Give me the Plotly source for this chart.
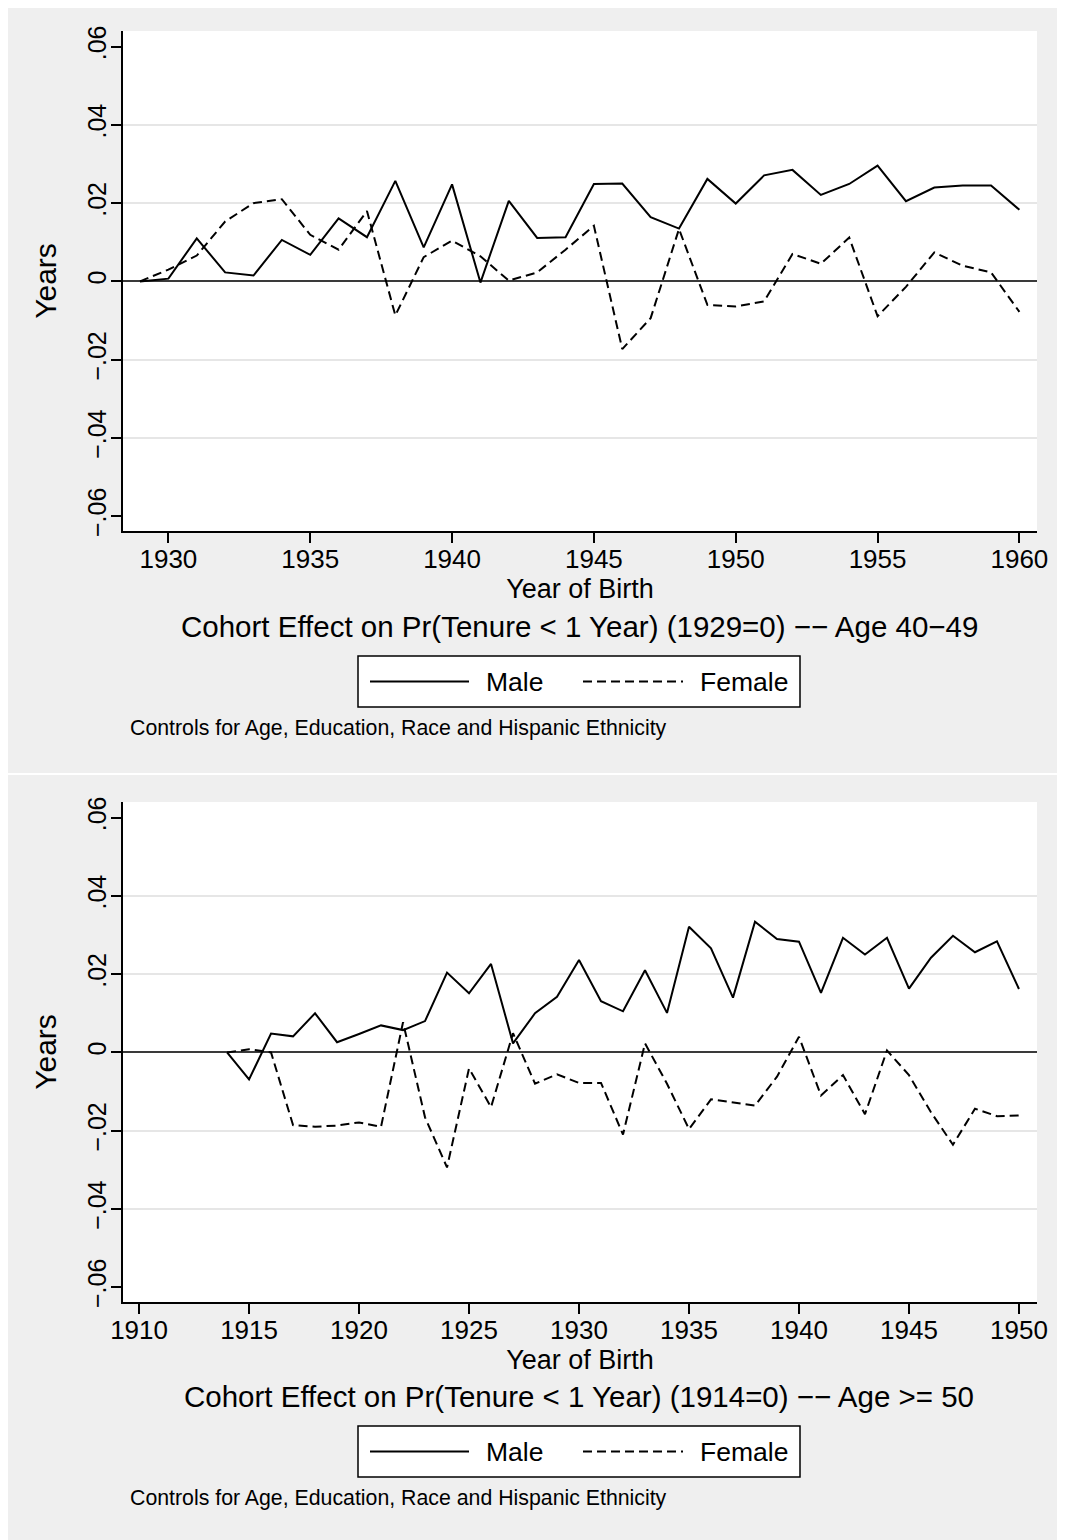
import plotly.graph_objects as go

# ---------------- data ----------------
years_top = [1929, 1930, 1931, 1932, 1933, 1934, 1935, 1936, 1937, 1938, 1939, 1940,
             1941, 1942, 1943, 1944, 1945, 1946, 1947, 1948, 1949, 1950, 1951, 1952,
             1953, 1954, 1955, 1956, 1957, 1958, 1959, 1960]
male_top = [0.0, 0.0007, 0.0110, 0.0023, 0.0015, 0.0106, 0.0068, 0.0161, 0.0113, 0.0257,
            0.0087, 0.0248, -0.0003, 0.0206, 0.0111, 0.0113, 0.0249, 0.0250, 0.0164, 0.0135,
            0.0262, 0.0199, 0.0271, 0.0285, 0.0221, 0.0249, 0.0296, 0.0205, 0.0240, 0.0245,
            0.0245, 0.0183]
female_top = [0.0, 0.0030, 0.0066, 0.0153, 0.0200, 0.0210, 0.0119, 0.0081, 0.0180, -0.0087,
              0.0062, 0.0104, 0.0064, 0.0002, 0.0023, 0.0081, 0.0142, -0.0173, -0.0094, 0.0134,
              -0.0060, -0.0064, -0.0051, 0.0070, 0.0045, 0.0112, -0.0089, -0.0014, 0.0074, 0.0040,
              0.0023, -0.0078]

years_bot = [1914, 1915, 1916, 1917, 1918, 1919, 1920, 1921, 1922, 1923, 1924, 1925, 1926,
             1927, 1928, 1929, 1930, 1931, 1932, 1933, 1934, 1935, 1936, 1937, 1938, 1939,
             1940, 1941, 1942, 1943, 1944, 1945, 1946, 1947, 1948, 1949, 1950]
male_bot = [0.0, -0.0069, 0.0048, 0.0041, 0.0100, 0.0026, 0.0047, 0.0069, 0.0057, 0.0080,
            0.0204, 0.0151, 0.0226, 0.0023, 0.0100, 0.0142, 0.0236, 0.0131, 0.0105, 0.0210,
            0.0101, 0.0321, 0.0266, 0.0140, 0.0334, 0.0290, 0.0283, 0.0152, 0.0293, 0.0250,
            0.0293, 0.0163, 0.0242, 0.0298, 0.0256, 0.0284, 0.0162]
female_bot = [0.0, 0.0008, 0.0000, -0.0186, -0.0190, -0.0187, -0.0179, -0.0190, 0.0077, -0.0166,
              -0.0294, -0.0041, -0.0140, 0.0049, -0.0080, -0.0056, -0.0078, -0.0078, -0.0210, 0.0023,
              -0.0080, -0.0196, -0.0120, -0.0128, -0.0136, -0.0062, 0.0040, -0.0110, -0.0058, -0.0158,
              0.0005, -0.0058, -0.0153, -0.0236, -0.0144, -0.0163, -0.0161]

y_tickvals = [-0.06, -0.04, -0.02, 0, 0.02, 0.04, 0.06]
y_ticktext = ["\u2212.06", "\u2212.04", "\u2212.02", "0", ".02", ".04", ".06"]
x_ticks_top = [1930, 1935, 1940, 1945, 1950, 1955, 1960]
x_ticks_bot = [1910, 1915, 1920, 1925, 1930, 1935, 1940, 1945, 1950]

titles = ["Cohort Effect on Pr(Tenure < 1 Year) (1929=0) \u2212\u2212 Age 40\u221249",
          "Cohort Effect on Pr(Tenure < 1 Year) (1914=0) \u2212\u2212 Age >= 50"]
caption = "Controls for Age, Education, Race and Hispanic Ethnicity"
series_names = ["Male", "Female"]

# ---------------- layout helpers ----------------
# the page body adds an 8px offset, so the figure is 8px smaller than the window
W, H = 1057, 1532
ML, MR, MT, MB = 115, 28, 23, 238
PW, PH = W - ML - MR, H - MT - MB
SX0, SY_BOTTOM = 123, 1302   # screen pixel positions of plot-area left / bottom


def xp(px):
    return (px - SX0) / PW


def yp(py):
    return (SY_BOTTOM - py) / PH


FONT = "Liberation Sans, Arial, Helvetica, sans-serif"
DASH = "9px,5px"

fig = go.Figure()
fig.add_trace(go.Scatter(x=years_top, y=male_top, mode="lines", name=series_names[0],
                         line=dict(color="black", width=2), xaxis="x", yaxis="y", showlegend=False))
fig.add_trace(go.Scatter(x=years_top, y=female_top, mode="lines", name=series_names[1],
                         line=dict(color="black", width=2, dash=DASH), xaxis="x", yaxis="y", showlegend=False))
fig.add_trace(go.Scatter(x=years_bot, y=male_bot, mode="lines", name=series_names[0],
                         line=dict(color="black", width=2), xaxis="x2", yaxis="y2", showlegend=False))
fig.add_trace(go.Scatter(x=years_bot, y=female_bot, mode="lines", name=series_names[1],
                         line=dict(color="black", width=2, dash=DASH), xaxis="x2", yaxis="y2", showlegend=False))

top_dom = [yp(531), 1.0]
bot_dom = [0.0, yp(802)]

xcommon = dict(showline=True, linecolor="black", linewidth=1.5, ticks="outside", ticklen=10,
               tickwidth=1.5, tickcolor="black", showgrid=False, zeroline=False,
               ticklabelstandoff=-6,
               tickfont=dict(size=26, color="black", family=FONT),
               title=dict(text="Year of Birth", font=dict(size=27, color="black", family=FONT), standoff=2))
ycommon = dict(showline=True, linecolor="black", linewidth=1.5, ticks="outside", ticklen=10,
               tickwidth=1.5, tickcolor="black", showgrid=False,
               zeroline=True, zerolinecolor="#3a3a3a", zerolinewidth=2,
               tickvals=y_tickvals, ticktext=y_ticktext, tickangle=-90, range=[-0.0638, 0.064],
               ticklabelstandoff=-5,
               tickfont=dict(size=25, color="black", family=FONT),
               minor=dict(tickvals=[-0.04, -0.02, 0.02, 0.04], showgrid=True, gridcolor="#e6e6e6",
                          gridwidth=1.5, ticks=""),
               title=dict(text="Years", font=dict(size=30, color="black", family=FONT), standoff=18))

fig.update_layout(
    width=W, height=H,
    margin=dict(l=ML, r=MR, t=MT, b=MB, autoexpand=False),
    paper_bgcolor="#efefef", plot_bgcolor="white",
    font=dict(family=FONT, color="black"),
    showlegend=False,
    xaxis=dict(domain=[0, 1], anchor="y", range=[1928.40, 1960.62], tickvals=x_ticks_top, **xcommon),
    yaxis=dict(domain=top_dom, anchor="x", **ycommon),
    xaxis2=dict(domain=[0, 1], anchor="y2", range=[1909.27, 1950.82], tickvals=x_ticks_bot, **xcommon),
    yaxis2=dict(domain=bot_dom, anchor="x2", **ycommon),
)

shapes = []
annotations = []
# white separator between the two graph panels
shapes.append(dict(type="rect", xref="paper", yref="paper", x0=xp(8), x1=xp(1065), y0=yp(773), y1=yp(775),
                   fillcolor="white", line=dict(width=0), layer="below"))

for k, off in enumerate([0, 770]):
    annotations.append(dict(text=titles[k], xref="paper", yref="paper", x=xp(579), y=yp(626 + off),
                            xanchor="center", yanchor="middle", showarrow=False,
                            font=dict(size=29.5, color="black", family=FONT)))
    annotations.append(dict(text=caption, xref="paper", yref="paper", x=xp(128), y=yp(728 + off),
                            xanchor="left", yanchor="middle", showarrow=False,
                            font=dict(size=21.3, color="black", family=FONT)))
    # legend box
    shapes.append(dict(type="rect", xref="paper", yref="paper", x0=xp(358), x1=xp(800),
                       y0=yp(707 + off), y1=yp(656 + off), fillcolor="white",
                       line=dict(color="black", width=1.5)))
    shapes.append(dict(type="line", xref="paper", yref="paper", x0=xp(370), x1=xp(469),
                       y0=yp(681.5 + off), y1=yp(681.5 + off), line=dict(color="black", width=2)))
    shapes.append(dict(type="line", xref="paper", yref="paper", x0=xp(583), x1=xp(683),
                       y0=yp(681.5 + off), y1=yp(681.5 + off), line=dict(color="black", width=2, dash=DASH)))
    annotations.append(dict(text=series_names[0], xref="paper", yref="paper", x=xp(484), y=yp(682 + off),
                            xanchor="left", yanchor="middle", showarrow=False,
                            font=dict(size=26.5, color="black", family=FONT)))
    annotations.append(dict(text=series_names[1], xref="paper", yref="paper", x=xp(698), y=yp(682 + off),
                            xanchor="left", yanchor="middle", showarrow=False,
                            font=dict(size=26.5, color="black", family=FONT)))

fig.update_layout(shapes=shapes, annotations=annotations)
fig.write_html("out.html")
